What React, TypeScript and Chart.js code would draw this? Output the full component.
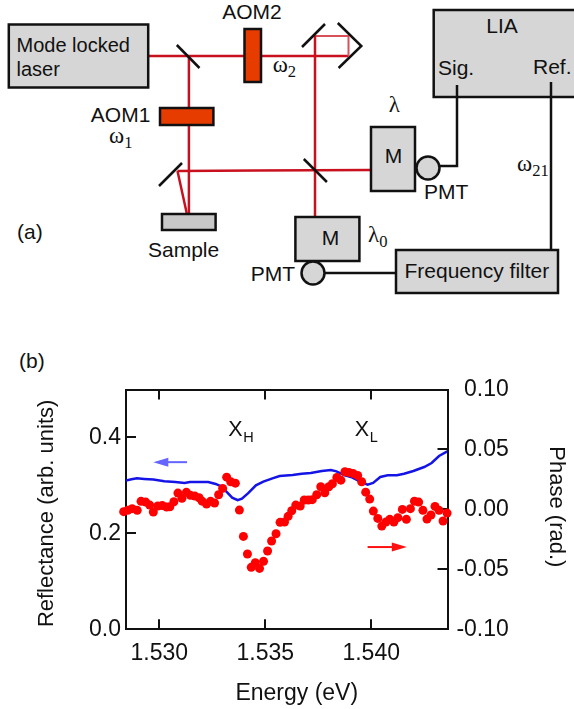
import React, { useEffect, useRef } from "react";
import { Chart, registerables } from "chart.js";

Chart.register(...registerables);

const xTickValues = [1.53, 1.535, 1.54];
const leftTickValues = [0, 0.2, 0.4];
const rightTickValues = [-0.1, -0.05, 0, 0.05, 0.1];

const phaseEnergy = [
  1.52832, 1.52851, 1.52872, 1.52896, 1.52914, 1.52936, 1.52955, 1.52972, 1.52993, 1.53014,
  1.53035, 1.5305, 1.53069, 1.53088, 1.53107, 1.53128, 1.53147, 1.53168, 1.53188, 1.53202,
  1.53223, 1.53242, 1.53261, 1.5328, 1.53299, 1.53318, 1.53337, 1.53359, 1.53378, 1.53397,
  1.53416, 1.53434, 1.53453, 1.53473, 1.53492, 1.53511, 1.5353, 1.53551, 1.5357, 1.53591,
  1.53608, 1.53625, 1.53644, 1.53665, 1.53684, 1.53703, 1.53722, 1.53743, 1.53762, 1.53781,
  1.538, 1.53817, 1.53838, 1.53857, 1.53876, 1.53895, 1.53914, 1.53936, 1.53955, 1.53974,
  1.53993, 1.5401, 1.54031, 1.5405, 1.54069, 1.54088, 1.54107, 1.54126, 1.54147, 1.54166,
  1.54185, 1.54204, 1.54224, 1.54244, 1.54263, 1.54282, 1.54301, 1.5432, 1.54339, 1.54358,
];
const phaseValues = [
  -0.0019, -0.0008, 0.0006, -0.0008, 0.0067, 0.0061, 0.0036, -0.0022, 0.0028, 0.0033,
  0.0019, 0.0022, 0.0064, 0.0136, 0.0092, 0.0142, 0.0117, 0.0111, 0.0097, 0.0069,
  0.0044, 0.0067, 0.0053, 0.0122, 0.0175, 0.0269, 0.0231, 0.0219, -0.0006, -0.0225,
  -0.0372, -0.0483, -0.0444, -0.0492, -0.0433, -0.0347, -0.0264, -0.0203, -0.0108, -0.0106,
  -0.0058, -0.0011, 0.0036, 0.0028, 0.0078, 0.0078, 0.0081, 0.0122, 0.0189, 0.0139,
  0.0189, 0.0214, 0.0267, 0.0244, 0.0314, 0.0308, 0.03, 0.0283, 0.0231, 0.0144,
  0.0086, -0.0014, -0.0075, -0.0139, -0.0106, -0.0083, -0.0106, -0.0069, 0, -0.0083,
  0.0006, 0.0069, 0.0061, -0.0008, -0.0081, -0.0047, 0.0025, -0.0008, -0.0097, -0.0031,
];

const reflectEnergy = [
  1.52843, 1.52869, 1.52895, 1.52929, 1.52972, 1.53024, 1.53076, 1.53119, 1.53145, 1.53188,
  1.53231, 1.53266, 1.53292, 1.53318, 1.53344, 1.5337, 1.5339, 1.53421, 1.53456, 1.53491,
  1.53534, 1.53568, 1.53629, 1.53672, 1.53715, 1.53767, 1.5381, 1.53836, 1.53871, 1.53905,
  1.53948, 1.53983, 1.54009, 1.54043, 1.54078, 1.54121, 1.54155, 1.54199, 1.5425, 1.54285,
  1.5432, 1.54359,
];
const reflectValues = [
  0.31, 0.3128, 0.3148, 0.3135, 0.3121, 0.3086, 0.3072, 0.3051, 0.3072, 0.3072,
  0.3072, 0.3031, 0.2982, 0.2864, 0.2746, 0.2691, 0.2725, 0.2843, 0.3003, 0.3079,
  0.3148, 0.3197, 0.3218, 0.3245, 0.3259, 0.3301, 0.3322, 0.3294, 0.3218, 0.3176,
  0.3079, 0.3017, 0.3051, 0.3176, 0.3211, 0.3211, 0.3245, 0.3301, 0.3384, 0.3467,
  0.3613, 0.371,
];

const xLimits = [1.52843, 1.5436];
const leftLimits = [0, 0.5];
const rightLimits = [-0.1, 0.1];

const peakLabels = [
  { main: "X", sub: "H", energy: 1.53326, level: 0.4027 },
  { main: "X", sub: "L", energy: 1.53922, level: 0.4027 },
];
const arrows = [
  { from: 1.53131, to: 1.52972, level: 0.3485, color: "#6464ff" },
  { from: 1.53983, to: 1.54168, level: 0.1715, color: "#ff1010" },
];

const SANS = '"Liberation Sans", Arial, sans-serif';
const SERIF = '"Liberation Serif", "Times New Roman", serif';
const INK = "#111111";
const BEAM = "#c8101e";

const annotations = {
  id: "annotations",
  afterDatasetsDraw(chart: any) {
    const { ctx, scales } = chart;
    const x = scales.x;
    const y = scales.y;
    ctx.save();
    ctx.fillStyle = INK;
    ctx.textBaseline = "alphabetic";
    ctx.textAlign = "left";
    for (const p of peakLabels) {
      const px = x.getPixelForValue(p.energy);
      const py = y.getPixelForValue(p.level);
      ctx.font = `21.5px ${SANS}`;
      ctx.fillText(p.main, px, py);
      ctx.font = `14.5px ${SANS}`;
      ctx.fillText(p.sub, px + 15, py + 6);
    }
    for (const a of arrows) {
      const x0 = x.getPixelForValue(a.from);
      const x1 = x.getPixelForValue(a.to);
      const py = y.getPixelForValue(a.level);
      const dir = x1 > x0 ? 1 : -1;
      ctx.strokeStyle = a.color;
      ctx.fillStyle = a.color;
      ctx.lineWidth = 2;
      ctx.beginPath();
      ctx.moveTo(x0, py);
      ctx.lineTo(x1 - dir * 8, py);
      ctx.stroke();
      ctx.beginPath();
      ctx.moveTo(x1, py);
      ctx.lineTo(x1 - dir * 15, py - 4.5);
      ctx.lineTo(x1 - dir * 15, py + 4.5);
      ctx.closePath();
      ctx.fill();
    }
    ctx.restore();
  },
};

function nudgeTitle(scale: any, dx: number, dy: number) {
  if (scale.__nudged) return;
  scale.__nudged = true;
  const original = scale.drawTitle;
  scale.drawTitle = function () {
    scale.ctx.save();
    scale.ctx.translate(dx, dy);
    original.call(scale);
    scale.ctx.restore();
  };
}

function Sub({ x, y, main, sub, size = 23 }: { x: number; y: number; main: string; sub: string; size?: number }) {
  return (
    <text x={x} y={y} fontFamily={SERIF} fontSize={size} fill={INK}>
      {main}
      <tspan dy={5} fontSize={size * 0.72}>{sub}</tspan>
    </text>
  );
}

function Label({ x, y, children, anchor = "start", size = 21 }: any) {
  return (
    <text x={x} y={y} fontFamily={SANS} fontSize={size} fill={INK} textAnchor={anchor}>
      {children}
    </text>
  );
}

function Box({ x0, x1, y0, y1, fill = "#d6d6d6", sw = 2.5 }: any) {
  return <rect x={x0} y={y0} width={x1 - x0} height={y1 - y0} fill={fill} stroke={INK} strokeWidth={sw} />;
}

function Seg({ pts, color = INK, sw = 2.5 }: { pts: string; color?: string; sw?: number }) {
  return <polyline points={pts} fill="none" stroke={color} strokeWidth={sw} />;
}

function Schematic() {
  return (
    <svg width={574} height={709} style={{ position: "absolute", left: 0, top: 0, display: "block" }}>
      <Seg color={BEAM} pts="148,56 348.5,56" />
      <Seg color="#d8505a" sw={2} pts="315,36 348.5,36 348.5,56" />
      <Seg color={BEAM} pts="188.9,56 188.9,213" />
      <Seg color={BEAM} pts="315,36 315,217" />
      <Seg color={BEAM} pts="177.5,171 370.8,170" />
      <Seg color={BEAM} pts="177.5,171 186.7,213" />

      <Seg pts="176.8,45 199.5,68" />
      <Seg pts="159,186 182,163" />
      <Seg pts="303.8,159 326.9,182" />
      <Seg pts="302,47 325,24" />
      <Seg pts="337.8,23 361.3,46 338.6,68" />

      <Box x0={8.8} x1={148.2} y0={24.5} y1={87.5} />
      <Label x={16.5} y={52} size={20}>Mode locked</Label>
      <Label x={16.5} y={76} size={20}>laser</Label>

      <Box x0={244.5} x1={261} y0={29} y1={82} fill="#e63c00" />
      <Label x={252} y={19} anchor="middle">AOM2</Label>
      <Sub x={272.7} y={72} main="ω" sub="2" />

      <Box x0={160} x1={213.4} y0={108} y1={125} fill="#e63c00" />
      <Label x={90.8} y={122}>AOM1</Label>
      <Sub x={109} y={143} main="ω" sub="1" />

      <Box x0={162} x1={215.6} y0={214} y1={230} fill="#c8c8c8" />
      <Label x={148} y={257}>Sample</Label>
      <Label x={17} y={239}>(a)</Label>

      <Box x0={433.7} x1={590} y0={10} y1={97} />
      <Seg pts="439,166 457,166 457,85" />
      <Seg pts="551,82 551,250" />
      <Label x={502} y={33} anchor="middle">LIA</Label>
      <Label x={438} y={75}>Sig.</Label>
      <Label x={533} y={74}>Ref.</Label>
      <Sub x={517} y={171} main="ω" sub="21" />

      <Box x0={371} x1={415} y0={127} y1={191} />
      <Label x={393.5} y={163} anchor="middle">M</Label>
      <text x={388.7} y={112} fontFamily={SERIF} fontSize={23} fill={INK}>λ</text>
      <circle cx={428} cy={168} r={11.5} fill="#d6d6d6" stroke={INK} strokeWidth={2.5} />
      <Label x={424} y={199}>PMT</Label>

      <Seg pts="325,273 396,273" />
      <Box x0={295.4} x1={359.4} y0={217} y1={261} />
      <Label x={330.5} y={245} anchor="middle">M</Label>
      <Sub x={368} y={242} main="λ" sub="0" />
      <circle cx={313} cy={273} r={11.5} fill="#d6d6d6" stroke={INK} strokeWidth={2.5} />
      <Label x={250.7} y={281}>PMT</Label>

      <Box x0={396} x1={558} y0={250} y1={293} />
      <Label x={404.5} y={278}>Frequency filter</Label>

      <Label x={19} y={368}>(b)</Label>
    </svg>
  );
}

export default function App() {
  const ref = useRef<HTMLCanvasElement | null>(null);

  useEffect(() => {
    if (!ref.current) return;
    const tickFont = { family: SANS, size: 23 };
    const grid = {
      color: INK,
      lineWidth: 2,
      drawOnChartArea: false,
      tickLength: -10,
    };
    const border = { color: INK, width: 2 };
    const chart = new Chart(ref.current, {
      type: "scatter",
      data: {
        datasets: [
          {
            label: "Phase",
            yAxisID: "yRight",
            order: 1,
            clip: false,
            data: phaseEnergy.map((e, i) => ({ x: e, y: phaseValues[i] })),
            backgroundColor: "#ff0000",
            borderWidth: 0,
            pointRadius: 4.5,
            showLine: false,
          },
          {
            label: "Reflectance",
            yAxisID: "y",
            order: 2,
            data: reflectEnergy.map((e, i) => ({ x: e, y: reflectValues[i] })),
            borderColor: "#1414e6",
            borderWidth: 2.5,
            pointRadius: 0,
            showLine: true,
            fill: false,
            tension: 0,
          },
        ],
      },
      options: {
        responsive: false,
        animation: false,
        devicePixelRatio: 1,
        layout: { padding: { top: 49.5, left: 0, right: 65.2, bottom: 0 } },
        plugins: { legend: { display: false }, tooltip: { enabled: false } },
        scales: {
          x: {
            type: "linear",
            position: "bottom",
            min: xLimits[0],
            max: xLimits[1],
            afterBuildTicks: (s: any) => { s.ticks = xTickValues.map((value) => ({ value })); },
            afterFit: (s: any) => { s.height = 79.7; },
            afterUpdate: (s: any) => nudgeTitle(s, 10, 2),
            grid,
            border,
            ticks: {
              color: INK,
              font: tickFont,
              padding: 21,
              maxRotation: 0,
              autoSkip: false,
              callback: (v: any) => Number(v).toFixed(3),
            },
            title: {
              display: true,
              text: "Energy (eV)",
              color: INK,
              font: { family: SANS, size: 23 },
              padding: { top: 0, bottom: 4 },
            },
          },
          xTop: {
            type: "linear",
            position: "top",
            min: xLimits[0],
            max: xLimits[1],
            afterBuildTicks: (s: any) => { s.ticks = xTickValues.map((value) => ({ value })); },
            afterFit: (s: any) => { s.height = 0; },
            grid,
            border,
            ticks: { display: false },
          },
          y: {
            type: "linear",
            position: "left",
            min: leftLimits[0],
            max: leftLimits[1],
            afterBuildTicks: (s: any) => { s.ticks = leftTickValues.map((value) => ({ value })); },
            afterFit: (s: any) => { s.width = 126; },
            afterUpdate: (s: any) => nudgeTitle(s, 0, 4),
            grid,
            border,
            ticks: {
              color: INK,
              font: tickFont,
              padding: 15,
              autoSkip: false,
              callback: (v: any) => Number(v).toFixed(1),
            },
            title: {
              display: true,
              text: "Reflectance (arb. units)",
              color: INK,
              font: { family: SANS, size: 22 },
              padding: { top: 33.8, bottom: 0 },
            },
          },
          yRight: {
            type: "linear",
            position: "right",
            min: rightLimits[0],
            max: rightLimits[1],
            afterBuildTicks: (s: any) => { s.ticks = rightTickValues.map((value) => ({ value })); },
            afterFit: (s: any) => { s.width = 61.3; },
            afterUpdate: (s: any) => nudgeTitle(s, 60.4, -2.5),
            grid,
            border,
            ticks: {
              color: INK,
              font: tickFont,
              padding: 19,
              crossAlign: "far",
              autoSkip: false,
              callback: (v: any) => Number(v).toFixed(2),
            },
            title: {
              display: true,
              text: "Phase (rad.)",
              color: INK,
              font: { family: SANS, size: 22 },
              padding: { top: 0, bottom: 0 },
            },
          },
        },
      },
      plugins: [annotations],
    } as any);
    return () => chart.destroy();
  }, []);

  return (
    <div style={{ position: "absolute", left: 0, top: 0, width: 574, height: 709, overflow: "hidden", background: "#fff" }}>
      <Schematic />
      <canvas
        ref={ref}
        width={574}
        height={369}
        style={{ position: "absolute", left: 0, top: 340, width: 574, height: 369, display: "block" }}
      />
    </div>
  );
}
